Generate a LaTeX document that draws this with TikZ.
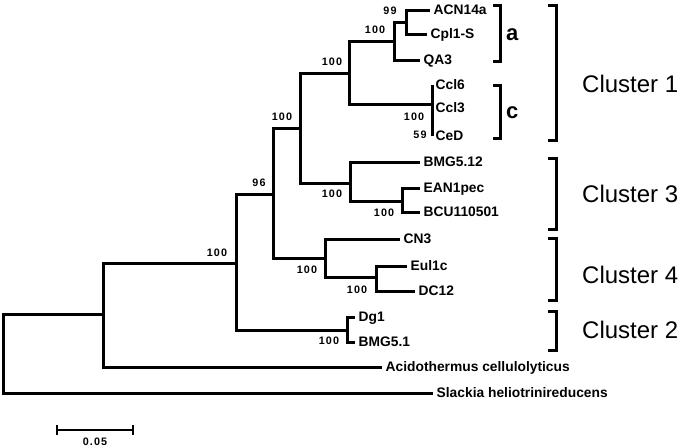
\documentclass[tikz,border=0pt]{standalone}
\usepackage{fontspec}
\setmainfont{Liberation Sans}
\newfontfamily\bsfont[LetterSpace=10]{Liberation Sans}
\begin{document}
\begin{tikzpicture}[x=1pt,y=-1pt,
  branch/.style={line width=3pt, line join=miter},
  leaf/.style={anchor=west, inner xsep=3.5pt, inner ysep=0pt, text height=9.8pt, text depth=0pt,
               font=\fontsize{13.8}{15}\selectfont\bfseries},
  boot/.style={inner sep=0pt, font=\bsfont\fontsize{10.8}{12}\selectfont\bfseries},
  bracketline/.style={line width=3pt, line join=miter},
  sub/.style={anchor=base west, inner sep=0pt, font=\fontsize{22}{24}\selectfont\bfseries},
  clus/.style={anchor=base west, inner sep=0pt, font=\fontsize{24}{26}\selectfont},
  sbar/.style={line width=2pt}]
\useasboundingbox[fill=white] (0,0) rectangle (685,447);

% internal nodes
\coordinate (root) at (3,354);
\coordinate (nAcid) at (103,314);
\coordinate (n236) at (236,263);
\coordinate (n96) at (273,194);
\coordinate (n300) at (300,128);
\coordinate (nC1) at (349,73);
\coordinate (nA) at (394,41);
\coordinate (n99) at (406,22);
\coordinate (nCc) at (432,104);
\coordinate (nC3) at (350,183);
\coordinate (nEAN) at (402,201);
\coordinate (nCN3) at (325,258);
\coordinate (nEul) at (376,277);
\coordinate (nDg) at (347,330);

% leaves
\node[leaf] (ACN) at (430,10) {ACN14a};
\node[leaf] (Cpl) at (427,34) {Cpl1-S};
\node[leaf] (QA3) at (420,60) {QA3};
\node[leaf] (Ccl6) at (432,85) {Ccl6};
\node[leaf] (Ccl3) at (432,108) {Ccl3};
\node[leaf] (CeD) at (432,136) {CeD};
\node[leaf] (BMG512) at (420,162) {BMG5.12};
\node[leaf] (EAN) at (420,188) {EAN1pec};
\node[leaf] (BCU) at (420,212) {BCU110501};
\node[leaf] (CN3) at (400,239) {CN3};
\node[leaf] (Eul) at (407,266) {Eul1c};
\node[leaf] (DC12) at (415,291) {DC12};
\node[leaf] (Dg1) at (355,317) {Dg1};
\node[leaf] (BMG51) at (355,342) {BMG5.1};
\node[leaf] (Acid) at (382,367) {Acidothermus cellulolyticus};
\node[leaf] (Slack) at (433,393) {Slackia heliotrinireducens};

% branches
\draw[branch] (root) |- (nAcid);
\draw[branch] (root) |- (Slack.west);
\draw[branch] (nAcid) |- (n236);
\draw[branch] (nAcid) |- (Acid.west);
\draw[branch] (n236) |- (n96);
\draw[branch] (n236) |- (nDg);
\draw[branch] (n96) |- (n300);
\draw[branch] (n96) |- (nCN3);
\draw[branch] (n300) |- (nC1);
\draw[branch] (n300) |- (nC3);
\draw[branch] (nC1) |- (nA);
\draw[branch] (nC1) |- (nCc);
\draw[branch] (nA) |- (n99);
\draw[branch] (nA) |- (QA3.west);
\draw[branch] (n99) |- (ACN.west);
\draw[branch] (n99) |- (Cpl.west);
\draw[branch] (nCc) |- (Ccl6.west);
\draw[branch] (nCc) |- (Ccl3.west);
\draw[branch] (nCc) |- (CeD.west);
\draw[branch] (nC3) |- (BMG512.west);
\draw[branch] (nC3) |- (nEAN);
\draw[branch] (nEAN) |- (EAN.west);
\draw[branch] (nEAN) |- (BCU.west);
\draw[branch] (nCN3) |- (CN3.west);
\draw[branch] (nCN3) |- (nEul);
\draw[branch] (nEul) |- (Eul.west);
\draw[branch] (nEul) |- (DC12.west);
\draw[branch] (nDg) |- (Dg1.west);
\draw[branch] (nDg) |- (BMG51.west);

% bootstrap values
\node[boot] (b99) at (390,11) {99};
\node[boot] (bA) at (375,30) {100};
\node[boot] (bC1) at (332,62) {100};
\node[boot] (bCc) at (414,117) {100};
\node[boot] (b59) at (420,135) {59};
\node[boot] (b300) at (282,117) {100};
\node[boot] (b96) at (259,183) {96};
\node[boot] (bC3) at (332,194) {100};
\node[boot] (bEAN) at (384,213) {100};
\node[boot] (bCN3) at (307,270) {100};
\node[boot] (bEul) at (357,290) {100};
\node[boot] (b236) at (217,253) {100};
\node[boot] (bDg) at (329,341) {100};

% sub-group brackets
\draw[bracketline] (493,5) -- (500,5) -- (500,61) -- (493,61);
\node[sub] (la) at (506,40) {a};
\draw[bracketline] (493,85) -- (500,85) -- (500,138) -- (493,138);
\node[sub] (lc) at (506,118) {c};

% cluster brackets
\draw[bracketline] (548,5) -- (556,5) -- (556,140) -- (548,140);
\node[clus] (cl1) at (582,92) {Cluster 1};
\draw[bracketline] (548,158) -- (556,158) -- (556,229) -- (548,229);
\node[clus] (cl3) at (582,202) {Cluster 3};
\draw[bracketline] (548,238) -- (556,238) -- (556,300) -- (548,300);
\node[clus] (cl4) at (582,283) {Cluster 4};
\draw[bracketline] (548,311) -- (556,311) -- (556,350) -- (548,350);
\node[clus] (cl2) at (582,338) {Cluster 2};

% scale bar
\coordinate (sb1) at (57,430);
\coordinate (sb2) at (133,430);
\draw[sbar] (sb1) -- (sb2);
\draw[sbar] (57,425) -- (57,435);
\draw[sbar] (133,425) -- (133,435);
\node[boot] (sblabel) at (95,442) {0.05};
\end{tikzpicture}
\end{document}
